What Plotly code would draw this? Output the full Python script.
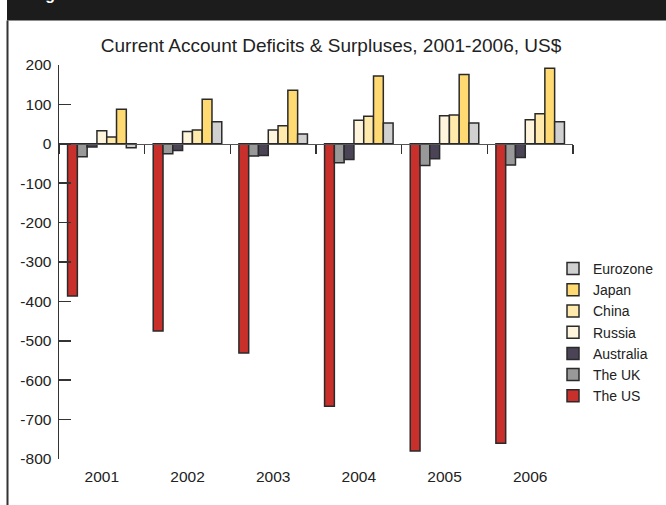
import plotly.graph_objects as go

years = ["2001", "2002", "2003", "2004", "2005", "2006"]

the_us = [-386, -475, -531, -666, -780, -760]
the_uk = [-33, -25, -31, -48, -55, -54]
australia = [-8, -17, -30, -40, -38, -35]
russia = [33, 31, 35, 60, 71, 61]
china = [17, 35, 46, 70, 73, 76]
japan = [88, 113, 136, 172, 176, 192]
eurozone = [-10, 56, 25, 53, 53, 56]

y_tick_vals = [200, 100, 0, -100, -200, -300, -400, -500, -600, -700, -800]
y_tick_text = ["200", "100", "0", "-100", "-200", "-300", "-400", "-500", "-600", "-700", "-800"]

series = [
    ("The US", the_us, "#c9302c"),
    ("The UK", the_uk, "#999999"),
    ("Australia", australia, "#4b4456"),
    ("Russia", russia, "#fff5dd"),
    ("China", china, "#ffe9ab"),
    ("Japan", japan, "#ffda72"),
    ("Eurozone", eurozone, "#d0d0d0"),
]

FONT = "Liberation Sans, Arial, Helvetica, sans-serif"

fig = go.Figure()
for name, vals, col in series:
    fig.add_trace(go.Bar(
        x=years, y=vals, name=name,
        marker=dict(color=col, line=dict(color="#2a2a2a", width=1.5)),
    ))

W, H = 666, 505
L, R, T, B = 59, 93, 65, 46
pw, ph = W - L - R, H - T - B

def px_x(p):
    return (p - L) / pw

def px_y(p):
    return (H - B - p) / ph

fig.update_layout(
    template="none",
    width=W, height=H,
    margin=dict(l=L, r=R, t=T, b=B, autoexpand=False),
    paper_bgcolor="white", plot_bgcolor="white",
    barmode="group", bargap=0.2, bargroupgap=0,
    font=dict(family=FONT, size=15.5, color="#222222"),
    title=dict(
        text="Current Account Deficits & Surpluses, 2001-2006, US$",
        font=dict(family=FONT, size=19, color="#222222"),
        x=0.497, xref="container", xanchor="center",
        y=1 - 45 / H, yref="container", yanchor="middle",
    ),
    showlegend=True,
    legend=dict(
        traceorder="reversed",
        x=px_x(553), xanchor="left",
        y=px_y(253), yanchor="top",
        font=dict(family=FONT, size=14, color="#222222"),
        bgcolor="rgba(0,0,0,0)", borderwidth=0,
        itemclick=False,
    ),
    xaxis=dict(
        type="category", categoryarray=years, range=[-0.5, 5.5],
        showline=False, showgrid=False, zeroline=False, automargin=False,
        ticks="outside", ticklen=3, tickcolor="rgba(0,0,0,0)",
        tickfont=dict(family=FONT, size=15.5, color="#222222"),
    ),
    xaxis2=dict(
        type="category", categoryarray=years, range=[-0.5, 5.5],
        overlaying="x", anchor="free", position=0.8,
        showline=True, linecolor="#555555", linewidth=1.5,
        ticks="outside", tickson="boundaries", ticklen=9,
        tickcolor="#333333", tickwidth=1.5, automargin=False,
        showticklabels=False, showgrid=False, zeroline=False,
    ),
    yaxis=dict(
        range=[-800, 200], tickmode="array",
        tickvals=y_tick_vals, ticktext=y_tick_text, automargin=False,
        showline=True, linecolor="#333333", linewidth=1.5,
        ticks="inside", ticklen=12, tickcolor="#333333", tickwidth=1.5,
        showgrid=False, zeroline=False, ticklabelstandoff=3,
        tickfont=dict(family=FONT, size=15.5, color="#222222"),
    ),
    shapes=[
        dict(type="rect", xref="paper", yref="paper",
             x0=px_x(7), x1=px_x(700), y0=px_y(20.5), y1=px_y(-20),
             fillcolor="#1c1c1c", line=dict(width=0), layer="above"),
        dict(type="line", xref="paper", yref="paper",
             x0=px_x(7.5), x1=px_x(7.5), y0=px_y(20.5), y1=px_y(520),
             line=dict(color="#333333", width=2)),
    ],
    annotations=[
        dict(text="<b>Figure 1</b>", xref="paper", yref="paper",
             x=px_x(29), xanchor="left", y=px_y(5.4), yanchor="bottom",
             showarrow=False, borderpad=1,
             font=dict(family=FONT, size=16, color="white")),
    ],
)

# invisible trace to bind the zero-line axis
fig.add_trace(go.Bar(x=years, y=[0] * len(years), xaxis="x2", showlegend=False,
                     marker=dict(color="rgba(0,0,0,0)"), hoverinfo="skip", width=0))

fig.write_html("out.html",
               config={"displayModeBar": False, "staticPlot": True},
               post_script="document.body.style.margin='0';document.body.style.overflow='hidden';")
